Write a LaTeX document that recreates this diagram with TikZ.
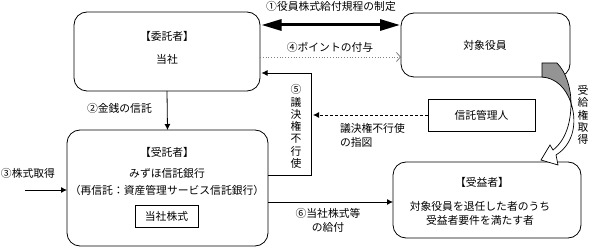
\documentclass[tikz,border=0pt]{standalone}
\usepackage{fontspec}
\setmainfont{Noto Sans CJK JP}
\usetikzlibrary{arrows.meta,calc}
\begin{document}
\begin{tikzpicture}[x=1pt,y=-1pt,
  every node/.style={font=\fontsize{10.8}{14}\selectfont, inner sep=0pt, outer sep=0pt},
  rbox/.style={draw, rounded corners=13pt, line width=0.8pt},
  sbox/.style={draw, line width=0.8pt},
  vtext/.style={align=center, font=\fontsize{10.8}{12.3}\selectfont},
  arr/.style={line width=0.8pt, -{Latex[length=6pt,width=6pt]}},
  bigarr/.style={line width=3pt, {Triangle[length=20pt,width=11pt]}-{Triangle[length=20pt,width=11pt]}},
  dotarr/.style={line width=0.8pt, gray, dotted, -{Straight Barb[length=4pt,width=9pt,line width=0.8pt]}},
  dasharr/.style={line width=0.8pt, dash pattern=on 3pt off 2pt, -{Latex[length=6pt,width=6pt]}},
  twist/.style={line width=0.7pt, draw=black}
]
\useasboundingbox (0,0) rectangle (594,248);

% boxes
\node[rbox, minimum width=186pt, minimum height=79pt] (wt) at (167,51.5) {};
\node[rbox, minimum width=169pt, minimum height=64pt] (tg) at (485.5,45) {};
\node[rbox, minimum width=201pt, minimum height=116pt] (jt) at (167.5,188) {};
\node[rbox, minimum width=188pt, minimum height=76pt] (ju) at (487,200) {};
\node[sbox, minimum width=107pt, minimum height=32pt] (sk) at (481.5,115) {};
\node[sbox, minimum width=63pt, minimum height=22pt] (ks) at (166.5,216) {};

% box texts
\node (wt1) at (167,36) {【委託者】};
\node (wt2) at (167,59) {当社};
\node (tg1) at (485,45) {対象役員};
\node (jt1) at (167,152) {【受託者】};
\node (jt2) at (167,173) {みずほ信託銀行};
\node (jt3) at (167,190) {（再信託：資産管理サービス信託銀行）};
\node (ks1) at (166.5,216) {当社株式};
\node (sk1) at (481.5,115) {信託管理人};
\node (ju1) at (482,182) {【受益者】};
\node[align=center] (ju2) at (480,213) {対象役員を退任した者のうち\\受益者要件を満たす者};

% labels
\node (l1) at (331,6) {①役員株式給付規程の制定};
\node (l4) at (330,47) {④ポイントの付与};
\node[anchor=west] (l2) at (87,108) {②金銭の信託};
\node[anchor=west] (l3) at (1,173) {③株式取得};
\node[vtext] (l5) at (296,126.5) {⑤\\議\\決\\権\\不\\行\\使};
\node[anchor=west, align=left] (lsz) at (340,135) {議決権不行使\\の指図};
\node[align=center] (l6) at (328,220) {⑥当社株式等\\の給付};
\node[vtext] (lj) at (583,115) {受\\給\\権\\取\\得};

% coordinates
\coordinate (c1) at (330,25);
\coordinate (c4) at (330,57);
\coordinate (c5a) at (311,175);
\coordinate (c5b) at (311,73);
\coordinate (c3) at (25,190);
\coordinate (c6) at (330,202);

% connectors
\draw[bigarr, shorten <=1.5pt, shorten >=1pt] (c1 -| wt.east) -- (c1 -| tg.west);
\draw[dotarr] (c4 -| wt.east) -- (c4 -| tg.west);
\draw[arr, shorten >=1.5pt] (c5a -| jt.east) -- (c5a) -- (c5b) -- (c5b -| wt.east);
\draw[dasharr, shorten >=2pt] (sk.west) -- (sk.west -| c5a);
\draw[arr] (wt.south) -- (jt.north);
\draw[arr] (c3) -- (c3 -| jt.west);
\draw[arr] (c6 -| jt.east) -- (c6 -| ju.west);

% curved twisted arrow (受給権取得)
\draw[twist, fill=black!42] (542,63) -- (557,63)
  .. controls (566,72) and (571,88) .. (571,103)
  .. controls (566,88) and (556,78) .. (542,77) -- cycle;
\draw[twist, fill=white] (571,103)
  .. controls (578,125) and (572,145) .. (556,155)
  -- (558,165) -- (541,160) -- (550,145) -- (553,150)
  .. controls (566,140) and (571,122) .. (571,103) -- cycle;
\end{tikzpicture}
\end{document}
